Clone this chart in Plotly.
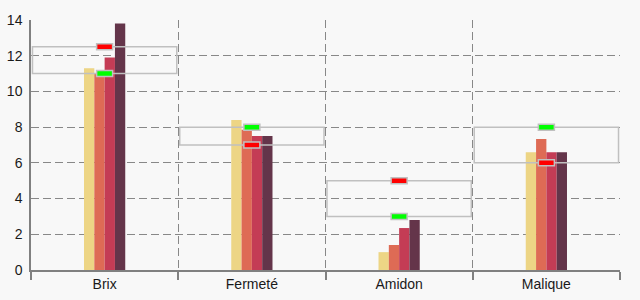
import plotly.graph_objects as go

categories = ["Brix", "Fermeté", "Amidon", "Malique"]
series_a = [11.3, 8.4, 1.0, 6.6]
series_b = [11.0, 7.85, 1.4, 7.33]
series_c = [11.9, 7.5, 2.35, 6.6]
series_d = [13.8, 7.5, 2.8, 6.6]
red_vals = [12.5, 7.0, 5.0, 6.0]
green_vals = [11.0, 8.0, 3.0, 8.0]
y_ticks = [0, 2, 4, 6, 8, 10, 12, 14]

colors = ["#EDD585", "#DE6B55", "#C43C55", "#64354A"]
xs = list(range(len(categories)))

fig = go.Figure()
for vals, col in zip([series_a, series_b, series_c, series_d], colors):
    fig.add_trace(go.Bar(x=xs, y=vals, marker=dict(color=col, line=dict(width=0)),
                         showlegend=False, hoverinfo="skip"))

shapes = []
for i in xs:
    lo = min(red_vals[i], green_vals[i])
    hi = max(red_vals[i], green_vals[i])
    shapes.append(dict(type="rect", xref="x", yref="y", x0=i - 0.49, x1=i + 0.49,
                       y0=lo, y1=hi, line=dict(color="#C0C0C0", width=1.5),
                       fillcolor="rgba(0,0,0,0)", layer="above"))
for vals, fill in [(red_vals, "#FF0000"), (green_vals, "#00FF00")]:
    for i in xs:
        shapes.append(dict(type="rect", xref="x", yref="y", xsizemode="pixel",
                           ysizemode="pixel", xanchor=i, yanchor=vals[i],
                           x0=-8, x1=8, y0=-3, y1=3, fillcolor=fill,
                           line=dict(color="#C0C0C0", width=1.5), layer="above"))

fig.update_layout(
    width=640, height=300,
    margin=dict(l=31, r=20, t=20, b=30),
    paper_bgcolor="#F8F8F8", plot_bgcolor="#F8F8F8",
    barmode="group", bargap=0.72, bargroupgap=0,
    font=dict(family="Liberation Sans, Arial, sans-serif", size=14, color="#1A1A1A"),
    shapes=shapes,
)
fig.update_xaxes(
    range=[-0.5, len(categories) - 0.5], tickmode="array", tickvals=xs,
    ticktext=categories, ticks="", showgrid=False, zeroline=False, automargin=False,
    showline=True, linecolor="#808080", linewidth=1.5,
    minor=dict(tickmode="array", tickvals=[i - 0.5 for i in range(len(categories) + 1)],
               ticks="outside", ticklen=8, tickcolor="#808080", tickwidth=1.5,
               showgrid=True, gridcolor="#888888", griddash="8px,4px", gridwidth=1.3),
)
fig.update_yaxes(
    range=[0, 14], tickmode="array", tickvals=y_ticks, ticks="", automargin=False,
    showgrid=True, gridcolor="#888888", griddash="8px,4px", gridwidth=1.3,
    zeroline=False, showline=True, linecolor="#808080", linewidth=1.5,
    ticklabelstandoff=4,
)
fig.write_html("out.html")
